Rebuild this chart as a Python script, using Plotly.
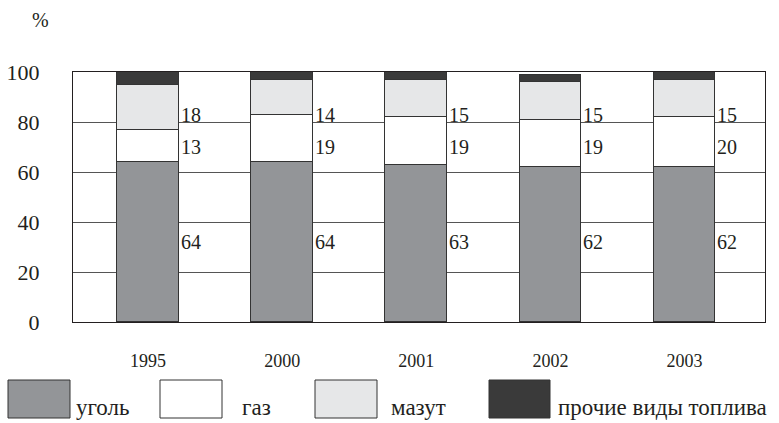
import plotly.graph_objects as go

# Fuel structure by year, %
years = ["1995", "2000", "2001", "2002", "2003"]
coal = [64, 64, 63, 62, 62]
gas = [13, 19, 19, 19, 20]
fuel_oil = [18, 14, 15, 15, 15]
other = [5, 3, 3, 3, 3]

series_names = ["уголь", "газ", "мазут", "прочие виды топлива"]
series_values = [coal, gas, fuel_oil, other]
series_colors = ["#939598", "#ffffff", "#e6e7e8", "#3a3a3a"]

FONT = "Liberation Serif"
x_pos = list(range(len(years)))
BAR_W = 0.46

fig = go.Figure()
for name, vals, col in zip(series_names, series_values, series_colors):
    fig.add_trace(go.Bar(
        x=x_pos, y=vals, name=name, width=BAR_W,
        marker=dict(color=col, line=dict(color="#333333", width=1)),
        showlegend=False,
    ))

def txt(size):
    return dict(family=FONT, size=size, color="#231f20")

# value labels to the right of each column, one row per series
label_rows = [(coal, 32), (gas, 70), (fuel_oil, 83)]
annotations = []
for i in x_pos:
    right = i + BAR_W / 2
    for vals, row_y in label_rows:
        annotations.append(dict(x=right, y=row_y, text=str(vals[i]),
                                xanchor="left", yanchor="middle", showarrow=False,
                                xshift=0, font=txt(20)))
    # other fuels above the column
    annotations.append(dict(x=i, y=108, text=str(other[i]),
                            xanchor="center", yanchor="middle", showarrow=False,
                            font=txt(18)))

annotations.append(dict(xref="paper", yref="paper", x=(40 - 73) / 692,
                        y=(322 - 20) / 250, text="%", showarrow=False,
                        xanchor="center", yanchor="middle", font=txt(20)))

# Legend drawn as large swatches below the chart
legend_boxes = [(8, 70, 74), (160, 222, 240), (315, 377, 389), (489, 550, 556)]
shapes = []
for (x0, x1, tx), name, col in zip(legend_boxes, series_names, series_colors):
    shapes.append(dict(type="rect", xref="paper", yref="paper",
                       x0=(x0 - 73) / 692, x1=(x1 - 73) / 692,
                       y0=(322 - 418) / 250, y1=(322 - 380) / 250,
                       fillcolor=col, line=dict(color="#333333", width=1)))
    annotations.append(dict(xref="paper", yref="paper", x=(tx - 73) / 692,
                            y=(322 - 422) / 250, text=name, showarrow=False,
                            xanchor="left", yanchor="bottom", font=txt(23)))

fig.update_layout(
    barmode="stack",
    width=779, height=423,
    margin=dict(l=73, r=14, t=72, b=101, autoexpand=False),
    paper_bgcolor="white", plot_bgcolor="white",
    font=txt(18),
    annotations=annotations,
    shapes=shapes,
    bargap=0,
)
fig.update_xaxes(
    range=[-0.56, 4.6], tickvals=x_pos, ticktext=years,
    showgrid=False, zeroline=False, ticks="", automargin=False,
    showline=True, mirror=True, linecolor="#231f20", linewidth=1.2,
    tickfont=txt(18), ticklabelstandoff=22,
)
fig.update_yaxes(
    range=[0, 100], tickvals=[0, 20, 40, 60, 80, 100],
    showgrid=True, gridcolor="#555555", gridwidth=1.2, zeroline=False, ticks="",
    automargin=False,
    showline=True, mirror=True, linecolor="#231f20", linewidth=1.2,
    tickfont=txt(22), ticklabelstandoff=28,
)

fig.write_html("out.html")
